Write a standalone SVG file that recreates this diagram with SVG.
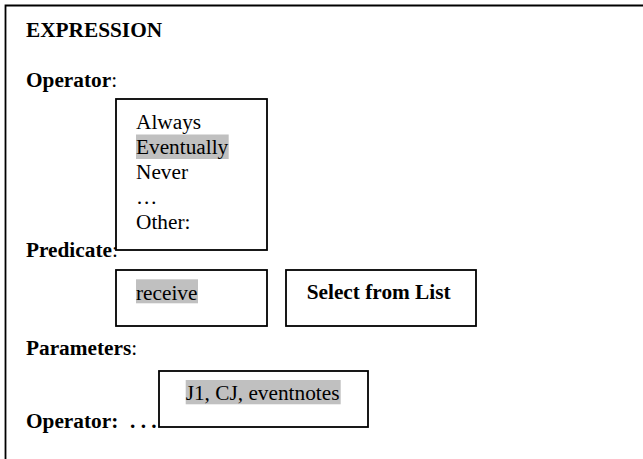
<svg xmlns="http://www.w3.org/2000/svg" width="643" height="459" viewBox="0 0 643 459">
<style>
text{font-family:"Liberation Serif","Times New Roman",serif;font-size:21.3px;fill:#000}
.b{font-weight:bold}
.box{fill:#fff;stroke:#000;stroke-width:1.8}
.hl{fill:#c0c0c0}
</style>
<rect width="643" height="459" fill="#fff"/>
<g id="frame">
<path d="M5.5,459 V5.5 H643" fill="none" stroke="#000" stroke-width="1.8"/>
</g>
<g id="labels">
<text class="b" x="26" y="36.7">EXPRESSION</text>
<text x="26" y="86.7"><tspan class="b">Operator</tspan>:</text>
<text x="26" y="256.7"><tspan class="b">Predicate</tspan>:</text>
<text x="26" y="355"><tspan class="b">Parameters</tspan>:</text>
<text class="b" x="26" y="428.3">Operator:</text>
<text class="b" x="130" y="428.3">. . .</text>
</g>
<g id="operator-list">
<rect class="box" x="116" y="99" width="151" height="151"/>
<rect class="hl" x="136" y="134.5" width="92.7" height="24.5"/>
<text x="136" y="129">Always</text>
<text x="136" y="154">Eventually</text>
<text x="136" y="179">Never</text>
<text x="136" y="204">…</text>
<text x="136" y="228.5">Other:</text>
</g>
<g id="predicate-field">
<rect class="box" x="116" y="270" width="151" height="56"/>
<rect class="hl" x="136" y="279.3" width="62" height="24"/>
<text x="136" y="299.5">receive</text>
</g>
<g id="select-button">
<rect class="box" x="286" y="270" width="190" height="56"/>
<text class="b" x="306.7" y="299">Select from List</text>
</g>
<g id="parameters-field">
<rect class="box" x="159" y="371" width="209" height="56"/>
<rect class="hl" x="185.7" y="380" width="155" height="24.3"/>
<text x="185.7" y="400">J1, CJ, eventnotes</text>
</g>
<g id="connectors"></g>
</svg>
